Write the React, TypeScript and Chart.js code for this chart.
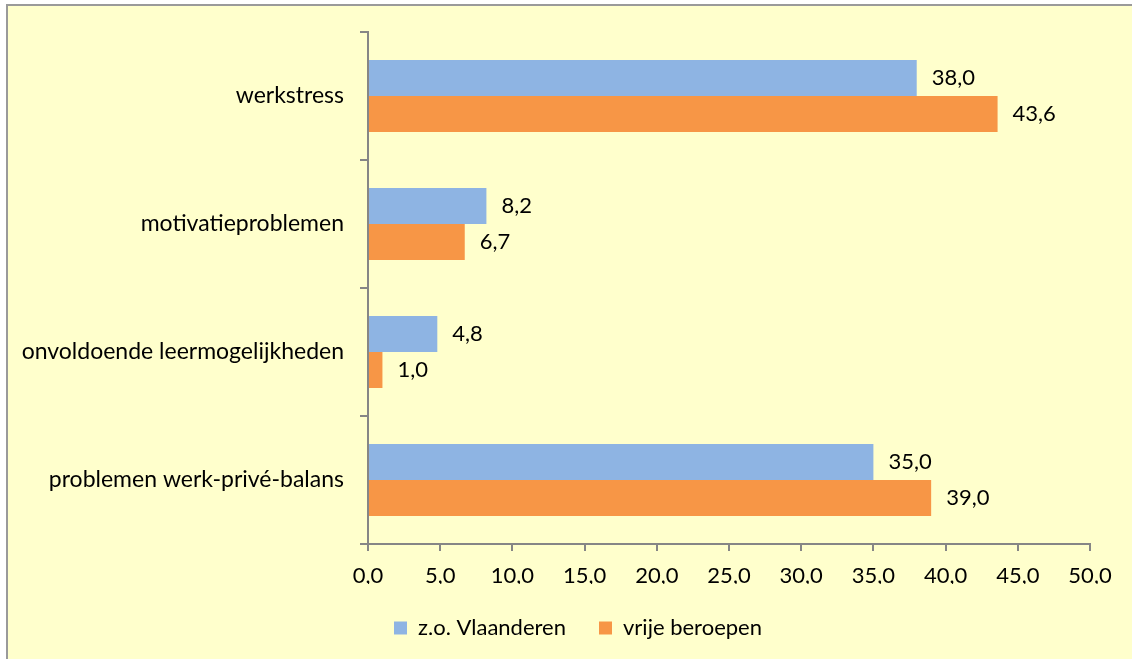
import React, { useEffect, useRef } from "react";
import { Chart, registerables } from "chart.js";

Chart.register(...registerables);

const categories = [
  "werkstress",
  "motivatieproblemen",
  "onvoldoende leermogelijkheden",
  "problemen werk-privé-balans",
];
const seriesNames = ["z.o. Vlaanderen", "vrije beroepen"];
const zoVlaanderen = [38.0, 8.2, 4.8, 35.0];
const vrijeBeroepen = [43.6, 6.7, 1.0, 39.0];
const xMin = 0;
const xMax = 50;
const xStep = 5;

const FONT = "Lato, 'Open Sans', sans-serif";
const FONT_SIZE = 22;
const fmt = (v: number) => v.toFixed(1).replace(".", ",");

const valueLabels = {
  id: "valueLabels",
  afterDatasetsDraw(chart: any) {
    const ctx = chart.ctx;
    ctx.save();
    ctx.font = `${FONT_SIZE}px ${FONT}`;
    ctx.fillStyle = "#000000";
    ctx.textAlign = "left";
    ctx.textBaseline = "middle";
    chart.data.datasets.forEach((ds: any, di: number) => {
      const meta = chart.getDatasetMeta(di);
      meta.data.forEach((el: any, i: number) => {
        ctx.fillText(fmt(ds.data[i]), el.x + 15, el.y);
      });
    });
    ctx.restore();
  },
};

export default function App() {
  const ref = useRef<HTMLCanvasElement>(null);
  useEffect(() => {
    const prevOverflow = document.documentElement.style.overflow;
    document.documentElement.style.overflow = "hidden";
    const chart = new Chart(ref.current!, {
      type: "bar",
      data: {
        labels: categories,
        datasets: [
          {
            label: seriesNames[0],
            data: zoVlaanderen,
            backgroundColor: "#8EB4E3",
            borderWidth: 0,
            categoryPercentage: 0.5625,
            barPercentage: 1,
          },
          {
            label: seriesNames[1],
            data: vrijeBeroepen,
            backgroundColor: "#F79646",
            borderWidth: 0,
            categoryPercentage: 0.5625,
            barPercentage: 1,
          },
        ],
      },
      options: {
        indexAxis: "y",
        responsive: false,
        animation: false,
        layout: { padding: { top: 26, right: 0, bottom: 10, left: 0 } },
        plugins: {
          tooltip: { enabled: false },
          legend: {
            position: "bottom",
            fullSize: true,
            labels: {
              boxWidth: 13,
              boxHeight: 13,
              padding: 33,
              color: "#000000",
              font: { family: FONT, size: FONT_SIZE },
            },
          },
        },
        scales: {
          x: {
            min: xMin,
            max: xMax,
            afterFit: (s: any) => {
              s.height = 40;
            },
            ticks: {
              stepSize: xStep,
              padding: 12,
              color: "#000000",
              font: { family: FONT, size: FONT_SIZE },
              callback: (v: any) => fmt(Number(v)),
              maxRotation: 0,
            },
            grid: {
              drawOnChartArea: false,
              drawTicks: true,
              tickLength: 7,
              color: "#868686",
              lineWidth: 2,
            },
            border: { display: true, color: "#868686", width: 2 },
          },
          y: {
            afterFit: (s: any) => {
              s.width = 360;
              s.paddingTop = 0;
              s.paddingBottom = 0;
            },
            ticks: {
              padding: 16,
              color: "#000000",
              font: { family: FONT, size: 23 },
            },
            grid: {
              offset: true,
              drawOnChartArea: false,
              drawTicks: true,
              tickLength: 8,
              color: "#868686",
              lineWidth: 2,
            },
            border: { display: true, color: "#868686", width: 2 },
          },
          ySpacer: {
            type: "linear",
            axis: "y",
            position: "right",
            afterFit: (s: any) => {
              s.width = 58;
              s.paddingTop = 0;
              s.paddingBottom = 0;
            },
            ticks: { display: false },
            grid: { display: false, drawTicks: false },
            border: { display: false },
          },
        },
      },
      plugins: [valueLabels],
    } as any);
    return () => {
      chart.destroy();
      document.documentElement.style.overflow = prevOverflow;
    };
  }, []);

  return (
    <div
      style={{
        position: "fixed",
        left: 0,
        top: 0,
        width: "100vw",
        height: "100vh",
        overflow: "hidden",
        background: "#ffffff",
      }}
    >
      <div
        style={{
          position: "absolute",
          left: 6,
          top: 4,
          width: 1140,
          height: 680,
          border: "2px solid #9a9a9a",
          background: "#FFFFCC",
        }}
      >
        <canvas ref={ref} width={1140} height={653} style={{ display: "block" }} />
      </div>
    </div>
  );
}
